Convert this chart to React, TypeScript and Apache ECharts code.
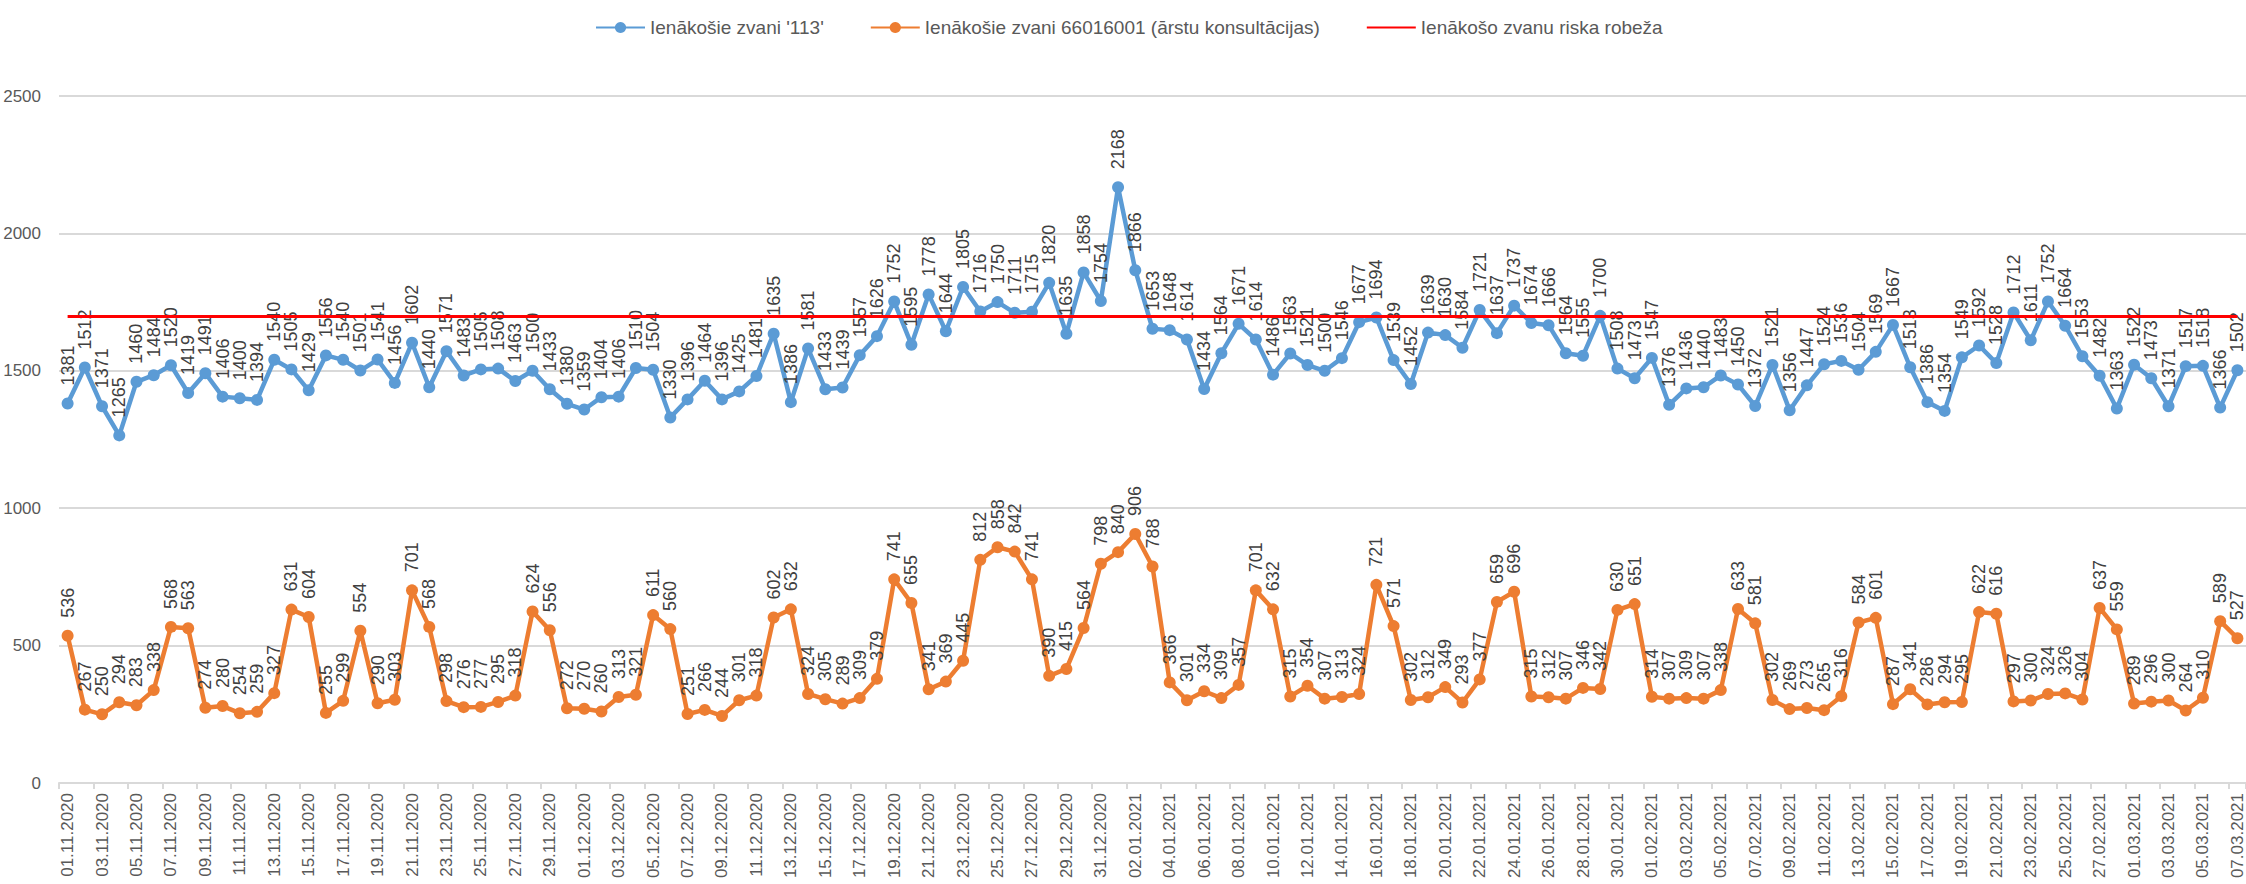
import React, { useEffect, useRef } from "react";
import * as echarts from "echarts";

// Categories: daily dates 01.11.2020 – 07.03.2021
const months: [number, number, number][] = [
  [11, 2020, 30],
  [12, 2020, 31],
  [1, 2021, 31],
  [2, 2021, 28],
  [3, 2021, 7],
];
const pad = (n: number) => (n < 10 ? "0" + n : "" + n);
const dates: string[] = [];
months.forEach(([m, y, days]) => {
  for (let d = 1; d <= days; d++) dates.push(`${pad(d)}.${pad(m)}.${y}`);
});

const calls113Nov = [1381, 1512, 1371, 1265, 1460, 1484, 1520, 1419, 1491, 1406, 1400, 1394, 1540, 1505, 1429, 1556, 1540, 1501, 1541, 1456, 1602, 1440, 1571, 1483, 1505, 1508, 1463, 1500, 1433, 1380];
const calls113Dec = [1359, 1404, 1406, 1510, 1504, 1330, 1396, 1464, 1396, 1425, 1481, 1635, 1386, 1581, 1433, 1439, 1557, 1626, 1752, 1595, 1778, 1644, 1805, 1716, 1750, 1711, 1715, 1820, 1635, 1858, 1754];
const calls113Jan = [2168, 1866, 1653, 1648, 1614, 1434, 1564, 1671, 1614, 1486, 1563, 1521, 1500, 1546, 1677, 1694, 1539, 1452, 1639, 1630, 1584, 1721, 1637, 1737, 1674, 1666, 1564, 1555, 1700, 1508, 1473];
const calls113Feb = [1547, 1376, 1436, 1440, 1483, 1450, 1372, 1521, 1356, 1447, 1524, 1536, 1504, 1569, 1667, 1513, 1386, 1354, 1549, 1592, 1528, 1712, 1611, 1752, 1664, 1553, 1482, 1363];
const calls113Mar = [1522, 1473, 1371, 1517, 1518, 1366, 1502];

const doctorNov = [536, 267, 250, 294, 283, 338, 568, 563, 274, 280, 254, 259, 327, 631, 604, 255, 299, 554, 290, 303, 701, 568, 298, 276, 277, 295, 318, 624, 556, 272];
const doctorDec = [270, 260, 313, 321, 611, 560, 251, 266, 244, 301, 318, 602, 632, 324, 305, 289, 309, 379, 741, 655, 341, 369, 445, 812, 858, 842, 741, 390, 415, 564, 798];
const doctorJan = [840, 906, 788, 366, 301, 334, 309, 357, 701, 632, 315, 354, 307, 313, 324, 721, 571, 302, 312, 349, 293, 377, 659, 696, 315, 312, 307, 346, 342, 630, 651];
const doctorFeb = [314, 307, 309, 307, 338, 633, 581, 302, 269, 273, 265, 316, 584, 601, 287, 341, 286, 294, 295, 622, 616, 297, 300, 324, 326, 304, 637, 559];
const doctorMar = [289, 296, 300, 264, 310, 589, 527];

const calls113 = [...calls113Nov, ...calls113Dec, ...calls113Jan, ...calls113Feb, ...calls113Mar];
const doctorCalls = [...doctorNov, ...doctorDec, ...doctorJan, ...doctorFeb, ...doctorMar];

const RISK_LIMIT = 1700;
const yTicks = [0, 500, 1000, 1500, 2000, 2500];

const NAME_113 = "Ienākošie zvani '113'";
const NAME_DOC = "Ienākošie zvani 66016001 (ārstu konsultācijas)";
const NAME_RISK = "Ienākošo zvanu riska robeža";

const FONT = "Liberation Sans";

export default function App() {
  const ref = useRef<HTMLDivElement>(null);
  useEffect(() => {
    if (!ref.current) return;
    const chart = echarts.init(ref.current, undefined, { renderer: "svg" });
    const dataLabel = {
      show: true,
      position: "top",
      rotate: 90,
      align: "left",
      verticalAlign: "middle",
      distance: 12,
      fontSize: 18,
      fontFamily: FONT,
      color: "#404040",
    };
    chart.setOption({
      animation: false,
      backgroundColor: "#ffffff",
      legend: {
        top: 13,
        left: 590,
        itemWidth: 49,
        itemHeight: 14,
        itemGap: 46,
        textStyle: { fontSize: 19, fontFamily: FONT, color: "#595959" },
        data: [NAME_113, NAME_DOC, { name: NAME_RISK, itemStyle: { opacity: 0 } }],
      },
      grid: { left: 59, right: 0, top: 96, bottom: 101, containLabel: false },
      xAxis: {
        type: "category",
        data: dates,
        boundaryGap: true,
        axisLine: { lineStyle: { color: "#d9d9d9", width: 2 } },
        axisTick: { show: true, interval: 1, length: 6, lineStyle: { color: "#d9d9d9", width: 2 } },
        axisLabel: {
          interval: 1,
          rotate: 90,
          margin: 10,
          fontSize: 17,
          fontFamily: FONT,
          color: "#595959",
        },
      },
      yAxis: {
        type: "value",
        min: yTicks[0],
        max: yTicks[yTicks.length - 1],
        interval: 500,
        axisLine: { show: false },
        axisTick: { show: false },
        splitLine: { lineStyle: { color: "#d9d9d9", width: 2 } },
        axisLabel: {
          fontSize: 17,
          fontFamily: FONT,
          color: "#595959",
          margin: 18,
          formatter: (v: number) => String(v),
        },
      },
      series: [
        {
          name: NAME_113,
          type: "line",
          data: calls113,
          symbol: "circle",
          symbolSize: 12,
          showSymbol: true,
          showAllSymbol: true,
          color: "#5B9BD5",
          lineStyle: { width: 4.5, color: "#5B9BD5" },
          itemStyle: { color: "#5B9BD5" },
          label: dataLabel,
          labelLayout: { hideOverlap: false },
          z: 3,
        },
        {
          name: NAME_DOC,
          type: "line",
          data: doctorCalls,
          symbol: "circle",
          symbolSize: 12,
          showSymbol: true,
          showAllSymbol: true,
          color: "#ED7D31",
          lineStyle: { width: 4.5, color: "#ED7D31" },
          itemStyle: { color: "#ED7D31" },
          label: dataLabel,
          labelLayout: { hideOverlap: false },
          z: 3,
        },
        {
          name: NAME_RISK,
          type: "line",
          data: [],
          symbol: "none",
          color: "#FF0000",
          lineStyle: { width: 3, color: "#FF0000" },
          itemStyle: { color: "#FF0000" },
          z: 4,
          markLine: {
            silent: true,
            symbol: ["none", "none"],
            label: { show: false },
            lineStyle: { color: "#FF0000", width: 3, type: "solid" },
            data: [[{ coord: [dates[0], RISK_LIMIT] }, { coord: [dates[dates.length - 1], RISK_LIMIT] }]],
          },
        },
      ],
    });
    return () => chart.dispose();
  }, []);
  return (
    <div
      ref={ref}
      style={{ position: "absolute", left: 0, top: 0, width: 2246, height: 884, background: "#fff" }}
    />
  );
}
